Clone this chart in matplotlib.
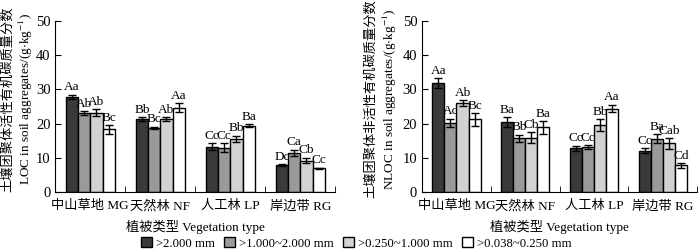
import numpy as np
import matplotlib.pyplot as plt
from matplotlib.patches import Patch

plt.rcParams['font.family'] = ['Liberation Serif', 'Noto Sans CJK SC']
plt.rcParams['mathtext.fontset'] = 'stix'

groups = ['中山草地 MG', '天然林 NF', '人工林 LP', '岸边带 RG']
sizes = ['>2.000 mm', '>1.000~2.000 mm', '>0.250~1.000 mm', '>0.038~0.250 mm']

# LOC (left) per size class, order MG NF LP RG
loc = [[27.8, 21.3, 13.3, 7.9],
       [23.0, 18.7, 12.9, 11.5],
       [23.2, 21.3, 15.6, 9.2],
       [18.3, 24.6, 19.4, 6.9]]
loc_err = [[0.6, 0.6, 0.9, 0.3],
           [0.6, 0.4, 1.3, 0.9],
           [1.0, 0.6, 0.9, 0.8],
           [1.2, 1.3, 0.4, 0.2]]
loc_lab = [['Aa', 'Bb', 'Cc', 'Dc'],
           ['Ab', 'Bc', 'Cc', 'Ca'],
           ['Ab', 'Ab', 'Bb', 'Cb'],
           ['Bc', 'Aa', 'Ba', 'Cc']]

# NLOC (right)
nloc = [[31.8, 20.4, 12.8, 12.1],
        [20.2, 15.7, 13.1, 15.6],
        [26.0, 15.9, 19.5, 14.2],
        [21.2, 18.9, 24.4, 7.8]]
nloc_err = [[1.5, 1.5, 0.7, 0.8],
            [1.2, 1.1, 0.6, 1.3],
            [0.9, 1.5, 1.8, 1.6],
            [1.8, 1.8, 1.1, 0.7]]
nloc_lab = [['Aa', 'Ba', 'Cc', 'Cc'],
            ['Ac', 'Bb', 'Cc', 'Ba'],
            ['Ab', 'Cb', 'Bb', 'Cab'],
            ['Bc', 'Ba', 'Aa', 'Cd']]

colors = ['#3a3a3a', '#9a9a9a', '#d2d2d2', 'white']

fig = plt.figure(figsize=(7, 2.52), dpi=100)
ax1 = fig.add_axes([0.079, 0.238, 0.400, 0.679])
ax2 = fig.add_axes([0.603, 0.238, 0.393, 0.679])

w = 0.175
x = np.arange(len(groups))

def draw(ax, vals, errs, labs, ylab, lx):
    for i in range(4):
        xs = x + (i - 1.5) * w
        ax.bar(xs, vals[i], w, color=colors[i], edgecolor='black', linewidth=1.0,
               yerr=errs[i], capsize=3, error_kw=dict(elinewidth=1.0, capthick=1.0))
        for j in range(4):
            ax.text(xs[j], vals[i][j] + errs[i][j] + 0.4, labs[i][j],
                    ha='center', va='bottom', fontsize=9.5)
    ax.set_xlim(-0.5, 3.5)
    ax.set_ylim(0, 50)
    ax.set_yticks([0, 10, 20, 30, 40, 50])
    ax.set_xticks(x)
    ax.set_xticklabels(groups, fontsize=9.5)
    ax.set_xticks([0.5, 1.5, 2.5, 3.5], minor=True)
    ax.tick_params(axis='x', which='major', length=0, pad=6)
    ax.tick_params(axis='x', which='minor', direction='in', length=4)
    ax.tick_params(axis='y', direction='in', length=4, labelsize=10.5)
    for s in ['top', 'right']:
        ax.spines[s].set_visible(False)
    ax.set_xlabel('植被类型 Vegetation type', fontsize=9.5, labelpad=5)
    ax.set_ylabel(ylab, fontsize=9.5, linespacing=1.25)
    ax.yaxis.set_label_coords(lx, 0.545)

draw(ax1, loc, loc_err, loc_lab,
     '土壤团聚体活性有机碳质量分数\nLOC in soil aggregates/(g$\\cdot$kg$^{-1}$)', -0.072)
draw(ax2, nloc, nloc_err, nloc_lab,
     '土壤团聚体非活性有机碳质量分数\nNLOC in soil aggregates/(g$\\cdot$kg$^{-1}$)', -0.085)

handles = [Patch(facecolor=c, edgecolor='black', linewidth=1.0) for c in colors]
fig.legend(handles, sizes, loc='center', bbox_to_anchor=(0.509, 0.035), ncol=4,
           frameon=False, fontsize=9.2, handlelength=0.9, handleheight=0.9,
           handletextpad=0.3, columnspacing=0.7, borderaxespad=0)

fig.savefig('out.png', dpi=100)
